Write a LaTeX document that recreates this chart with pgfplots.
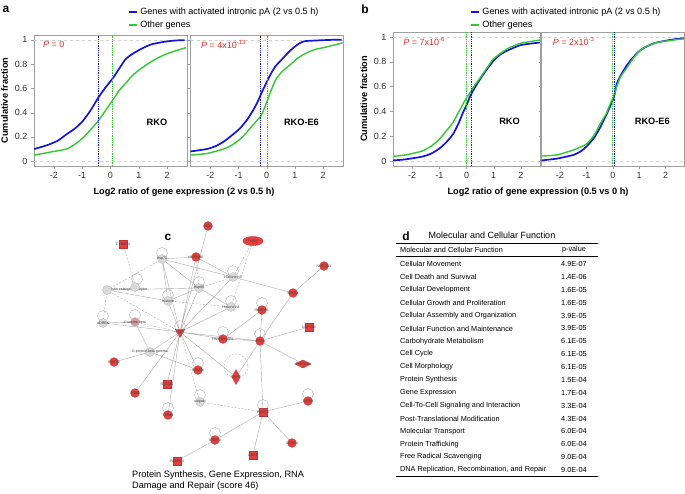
\documentclass[border=0pt]{standalone}
\usepackage{pgfplots}
\pgfplotsset{compat=1.18}
\usepackage{fontspec}
\setmainfont{Liberation Sans}
\definecolor{cblue}{RGB}{20,20,225}
\definecolor{cgreen}{RGB}{50,200,50}
\definecolor{cred}{RGB}{235,45,45}
\definecolor{nred}{RGB}{228,62,62}
\pgfplotsset{
  cdf/.style={scale only axis, xmin=-2.7, xmax=2.7, ymin=-0.04, ymax=1.04,
    xtick={-2,-1,0,1,2}, ytick={0,0.2,0.4,0.6,0.8,1},
    axis line style={gray!75}, tick style={gray!75}, tick align=outside, tick pos=left,
    major tick length=3pt,
    ticklabel style={font=\fontsize{9}{10}\selectfont, text=black!80},
    /pgf/number format/assume math mode=true,
    ylabel style={font=\bfseries\fontsize{9.2}{10}\selectfont},
    clip=false},
  bl/.style={cblue, line width=1.7pt, smooth, tension=0.4},
  gr/.style={cgreen, line width=1.4pt, smooth, tension=0.4},
  guide/.style={gray!35, dashed, line width=0.4pt, forget plot},
}
\newcommand{\lab}[1]{{\bfseries\fontsize{9.2}{10}\selectfont #1}}
\newcommand{\pv}[1]{{\color{cred}\fontsize{9}{10}\selectfont\textit{P} = #1}}
\newcommand{\netfont}{\fontsize{3.6}{4}\selectfont}
\begin{document}
\begin{tikzpicture}
\path[use as bounding box] (0pt,0pt) rectangle (685pt,493pt);

% ---------------- panel a left ----------------
\begin{axis}[cdf, at={(34pt,327pt)}, anchor=south west, width=153pt, height=131pt,
  ylabel={Cumulative fraction},
  legend style={at={(0.614,1.222)}, anchor=north west, draw=none, fill=none,
    font=\fontsize{9.1}{10}\selectfont, inner sep=0pt, row sep=0.5pt, cells={anchor=west}},
  legend image code/.code={\draw[#1, line width=2.2pt, smooth=false] (0pt,0pt) -- (8pt,0pt);}]
\addplot[guide] coordinates {(-2.7,0) (2.7,0)};
\addplot[guide] coordinates {(-2.7,1) (2.7,1)};
\addplot[bl] coordinates {(-2.69,0.10) (-2.4,0.12) (-2.14,0.14) (-1.85,0.17) (-1.56,0.22) (-1.25,0.27) (-0.98,0.33) (-0.7,0.42) (-0.44,0.52) (-0.2,0.60) (0.07,0.68) (0.3,0.76) (0.53,0.84) (0.75,0.88) (1.0,0.915) (1.25,0.945) (1.47,0.965) (1.93,0.985) (2.3,0.995) (2.62,0.997)};
\addlegendentry{Genes with activated intronic pA (2 vs 0.5 h)}
\addplot[gr] coordinates {(-2.69,0.05) (-2.14,0.074) (-1.56,0.10) (-1.25,0.14) (-0.98,0.19) (-0.7,0.26) (-0.44,0.33) (-0.2,0.41) (0.07,0.50) (0.3,0.58) (0.53,0.64) (0.75,0.70) (1.0,0.75) (1.47,0.825) (1.93,0.88) (2.3,0.91) (2.66,0.935)};
\addlegendentry{Other genes}
\addplot[cblue, densely dotted, line width=0.8pt, forget plot] coordinates {(-0.44,-0.04) (-0.44,1.04)};
\addplot[cgreen, densely dotted, line width=0.8pt, forget plot] coordinates {(0.07,-0.04) (0.07,1.04)};
\node[anchor=west] at (axis cs:-2.5,0.965) {\pv{0}};
\node at (axis cs:1.64,0.32) {\lab{RKO}};
\end{axis}

% ---------------- panel a right ----------------
\begin{axis}[cdf, at={(190.5pt,327pt)}, anchor=south west, width=152.5pt, height=131pt,
  yticklabels={}]
\addplot[guide] coordinates {(-2.7,0) (2.7,0)};
\addplot[guide] coordinates {(-2.7,1) (2.7,1)};
\addplot[bl] coordinates {(-2.7,0.08) (-2.12,0.10) (-1.8,0.125) (-1.53,0.16) (-1.25,0.21) (-0.95,0.27) (-0.7,0.34) (-0.48,0.42) (-0.3,0.50) (-0.19,0.56) (0.1,0.70) (0.3,0.78) (0.46,0.82) (0.7,0.88) (0.92,0.93) (1.15,0.97) (1.39,0.99) (2.3,1.0) (2.65,1.0)};
\addplot[gr] coordinates {(-2.7,0.05) (-2.12,0.063) (-1.53,0.10) (-1.25,0.13) (-0.95,0.18) (-0.7,0.24) (-0.48,0.30) (-0.19,0.38) (0.02,0.50) (0.2,0.61) (0.34,0.68) (0.55,0.74) (0.81,0.79) (1.1,0.85) (1.39,0.89) (1.7,0.92) (2.09,0.94) (2.68,0.975)};
\addplot[cblue, densely dotted, line width=0.8pt] coordinates {(-0.22,-0.04) (-0.22,1.04)};
\addplot[cgreen, densely dotted, line width=0.8pt] coordinates {(0.02,-0.04) (0.02,1.04)};
\node[anchor=west] at (axis cs:-2.45,0.965) {\pv{4x10\textsuperscript{-13}}};
\node at (axis cs:1.23,0.32) {\lab{RKO-E6}};
\end{axis}

% ---------------- panel b left ----------------
\begin{axis}[cdf, at={(393pt,327pt)}, anchor=south west, width=147pt, height=134pt,
  ylabel={Cumulative fraction},
  legend style={at={(0.524,1.195)}, anchor=north west, draw=none, fill=none,
    font=\fontsize{9.1}{10}\selectfont, inner sep=0pt, row sep=0.5pt, cells={anchor=west}},
  legend image code/.code={\draw[#1, line width=2.2pt, smooth=false] (0pt,0pt) -- (8pt,0pt);}]
\addplot[guide] coordinates {(-2.7,0) (2.7,0)};
\addplot[guide] coordinates {(-2.7,1) (2.7,1)};
\addplot[bl] coordinates {(-2.7,0.005) (-2.26,0.013) (-1.64,0.035) (-1.3,0.06) (-1.0,0.10) (-0.75,0.15) (-0.5,0.215) (-0.3,0.30) (-0.13,0.39) (0.0,0.45) (0.13,0.52) (0.3,0.59) (0.5,0.66) (0.75,0.74) (1.0,0.81) (1.25,0.86) (1.5,0.89) (2.0,0.935) (2.7,0.955)};
\addlegendentry{Genes with activated intronic pA (2 vs 0.5 h)}
\addplot[gr] coordinates {(-2.7,0.038) (-2.26,0.048) (-1.64,0.08) (-1.3,0.12) (-1.0,0.175) (-0.75,0.24) (-0.5,0.31) (-0.3,0.39) (-0.13,0.46) (0.0,0.51) (0.13,0.55) (0.3,0.61) (0.5,0.67) (0.75,0.75) (1.0,0.825) (1.5,0.905) (2.0,0.95) (2.7,0.975)};
\addlegendentry{Other genes}
\addplot[cblue, densely dotted, line width=0.8pt, forget plot] coordinates {(0.17,-0.04) (0.17,1.04)};
\addplot[cgreen, densely dotted, line width=0.8pt, forget plot] coordinates {(0.0,-0.04) (0.0,1.04)};
\node[anchor=west] at (axis cs:-2.45,0.965) {\pv{7x10\textsuperscript{-6}}};
\node at (axis cs:1.58,0.32) {\lab{RKO}};
\end{axis}

% ---------------- panel b right ----------------
\begin{axis}[cdf, at={(541.5pt,327pt)}, anchor=south west, width=142.5pt, height=134pt,
  yticklabels={}]
\addplot[guide] coordinates {(-2.7,0) (2.7,0)};
\addplot[guide] coordinates {(-2.7,1) (2.7,1)};
\addplot[bl] coordinates {(-2.7,0.005) (-2.1,0.02) (-1.48,0.05) (-1.2,0.08) (-0.98,0.12) (-0.7,0.19) (-0.48,0.27) (-0.25,0.37) (-0.1,0.44) (0.05,0.52) (0.15,0.62) (0.3,0.69) (0.53,0.77) (0.75,0.83) (1.03,0.89) (1.3,0.925) (1.66,0.955) (2.29,0.98) (2.7,0.99)};
\addplot[gr] coordinates {(-2.7,0.04) (-2.1,0.05) (-1.48,0.09) (-1.2,0.115) (-0.98,0.14) (-0.7,0.21) (-0.48,0.30) (-0.25,0.38) (-0.1,0.46) (0.05,0.53) (0.15,0.60) (0.3,0.68) (0.53,0.75) (0.75,0.82) (1.03,0.89) (1.3,0.925) (1.66,0.955) (2.29,0.975) (2.7,0.985)};
\addplot[cblue, densely dotted, line width=0.8pt] coordinates {(0.08,-0.04) (0.08,1.04)};
\addplot[cgreen, densely dotted, line width=0.8pt] coordinates {(0.0,-0.04) (0.0,1.04)};
\node[anchor=west] at (axis cs:-2.4,0.965) {\pv{2x10\textsuperscript{-3}}};
\node at (axis cs:1.5,0.32) {\lab{RKO-E6}};
\end{axis}

% x labels and panel letters
\node at (184pt,301pt) {\lab{Log2 ratio of gene expression (2 vs 0.5 h)}};
\node at (538pt,301pt) {\lab{Log2 ratio of gene expression (0.5 vs 0 h)}};
\node at (6pt,484pt) {\bfseries\fontsize{12}{12}\selectfont a};
\node at (365pt,484pt) {\bfseries\fontsize{12}{12}\selectfont b};
\node at (168pt,256pt) {\bfseries\fontsize{12}{12}\selectfont c};
\node at (406pt,257pt) {\bfseries\fontsize{12}{12}\selectfont d};

% ---------------- panel c: network ----------------
\begin{axis}[at={(80pt,25pt)}, anchor=south west, scale only axis, width=265pt, height=250pt,
  xmin=80, xmax=345, ymin=218, ymax=468, y dir=reverse, hide axis, clip=false]
% solid edges
\addplot[gray!65, line width=0.4pt, unbounded coords=jump] coordinates {
(180,332)(162,259) (nan,nan) (180,332)(196,257) (nan,nan) (180,332)(208,226) (nan,nan)
(180,332)(199,288) (nan,nan) (180,332)(233,277) (nan,nan) (180,332)(168,301) (nan,nan)
(180,332)(223,339) (nan,nan) (180,332)(260,341) (nan,nan) (180,332)(236,377) (nan,nan)
(180,332)(198,370) (nan,nan) (180,332)(167,384) (nan,nan) (180,332)(135,393) (nan,nan)
(180,332)(168,415) (nan,nan) (180,332)(103,323) (nan,nan) (180,332)(150,352) (nan,nan)
(180,332)(231,307) (nan,nan)
(162,259)(199,288) (nan,nan) (162,259)(196,257) (nan,nan) (162,259)(233,277) (nan,nan)
(162,259)(168,301) (nan,nan) (196,257)(233,277) (nan,nan) (199,288)(107,290) (nan,nan)
(199,288)(231,307) (nan,nan) (233,277)(293,293) (nan,nan) (324,266)(293,293) (nan,nan)
(293,293)(260,341) (nan,nan) (262,310)(260,341) (nan,nan) (262,310)(223,339) (nan,nan)
(223,339)(260,341) (nan,nan) (309,327)(260,341) (nan,nan) (260,341)(303,364) (nan,nan)
(260,341)(236,377) (nan,nan) (260,341)(263,412) (nan,nan) (150,352)(114,362) (nan,nan)
(150,352)(135,322) (nan,nan) (150,352)(198,370) (nan,nan) (103,323)(135,322) (nan,nan)
(263,412)(308,401) (nan,nan) (263,412)(215,440) (nan,nan) (263,412)(292,443) (nan,nan)
(263,412)(253,455) (nan,nan) (215,440)(177,461) (nan,nan) (168,301)(107,290) (nan,nan)
(199,288)(168,301)
};
% dashed edges
\addplot[gray!65, line width=0.4pt, dash pattern=on 2pt off 1.5pt, unbounded coords=jump] coordinates {
(123,244)(135,285) (nan,nan) (107,290)(162,259) (nan,nan) (103,323)(107,290) (nan,nan)
(180,332)(107,290) (nan,nan) (180,332)(135,322) (nan,nan) (180,332)(200,402) (nan,nan)
(200,402)(263,412) (nan,nan) (233,277)(253,241) (nan,nan) (231,307)(253,241) (nan,nan)
(168,301)(231,307) (nan,nan) (199,288)(196,257) (nan,nan) (199,288)(233,277)
};
% self loops
\addplot[only marks, mark=o, mark size=5.5pt, mark options={draw=gray!60, line width=0.4pt}] coordinates {
(162,253)(233,271)(199,282)(137,279)(231,301)(262,303)(223,332)(260,334)(180,326)
(103,316)(135,315)(198,363)(200,395)(263,405)(308,394)(168,408)(215,433)(168,295)};
\addplot[only marks, mark=o, mark size=12pt, mark options={draw=gray!60, line width=0.4pt, dash pattern=on 2pt off 1.5pt}] coordinates {(236,366)};
% gray nodes
\addplot[only marks, mark=*, mark size=4.5pt, mark options={fill=gray!30, draw=gray!55, line width=0.3pt}] coordinates {(107,290)(135,287)};
\addplot[only marks, mark=*, mark size=4.5pt, mark options={fill=gray!30, draw=gray!55, line width=0.3pt},
  point meta=explicit symbolic, nodes near coords={\pgfplotspointmeta},
  every node near coord/.append style={anchor=center, font=\netfont, text=black!75}] coordinates {
(162,259)[Hsp70] (233,277)[Histone h3] (199,288)[Hsp90] (168,301)[Histone]
(231,307)[Histone h4] (103,323)[ADRBK] (150,352)[G protein beta gamma] (200,402)[calpain]};
\addplot[only marks, mark=*, mark size=4.5pt, mark options={fill=nred!55!gray!60, draw=gray!55, line width=0.3pt},
  point meta=explicit symbolic, nodes near coords={\pgfplotspointmeta},
  every node near coord/.append style={anchor=center, font=\netfont, text=black!75}] coordinates {
(135,322)[Guanine beta]};
\node[font=\netfont, text=black!75] at (axis cs:125,290) {Progestin estrogen receptor};
% red circles
\addplot[only marks, mark=*, mark size=4.4pt, mark options={fill=nred, draw=nred!85!black, line width=0.3pt},
  point meta=explicit symbolic, nodes near coords={\pgfplotspointmeta},
  every node near coord/.append style={anchor=center, font=\netfont, text=black!75}] coordinates {
(208,226)[NCL] (196,257)[HNRNPK] (324,266)[NUDCD1] (293,293)[SEC62] (262,310)[HNRNPL]
(223,339)[HNRNPA2B1] (260,341)[PNN] (114,362)[PHF20] (198,370)[RBM26] (135,393)[TOM1]
(308,401)[EIF3G] (168,415)[TRIM9] (215,440)[SRSF3] (292,443)[CCNT1]};
% red squares / transporters
\addplot[only marks, mark=square*, mark size=4.2pt, mark options={fill=nred, draw=nred!85!black, line width=0.3pt},
  point meta=explicit symbolic, nodes near coords={\pgfplotspointmeta},
  every node near coord/.append style={anchor=center, font=\netfont, text=black!75}] coordinates {
(123,244)[CYB5R4] (263,412)[PRMT1] (253,455)[LSM1] (177,461)[PABPC4] (167,384)[SLC2A2] (309,327)[NUP210]};
% hub (inverted triangle)
\addplot[only marks, mark=triangle*, mark size=5.5pt, mark options={rotate=180, fill=nred, draw=nred!85!black, line width=0.3pt},
  point meta=explicit symbolic, nodes near coords={\pgfplotspointmeta},
  every node near coord/.append style={anchor=center, font=\netfont, text=black!75}] coordinates {(180,332)[HSP]};
% ellipse
\addplot[only marks, mark=*, mark size=4.6pt, mark options={xscale=2.2, fill=nred, draw=nred!85!black, line width=0.3pt},
  point meta=explicit symbolic, nodes near coords={\pgfplotspointmeta},
  every node near coord/.append style={anchor=center, font=\netfont, text=black!75}] coordinates {(253,241)[TNNI1]};
% diamonds
\addplot[only marks, mark=diamond*, mark size=7.5pt, mark options={xscale=0.75, fill=nred, draw=nred!85!black, line width=0.3pt},
  point meta=explicit symbolic, nodes near coords={\pgfplotspointmeta},
  every node near coord/.append style={anchor=center, font=\netfont, text=black!75}] coordinates {(236,377)[USP7]};
\addplot[only marks, mark=diamond*, mark size=5pt, mark options={xscale=2.2, yscale=0.8, fill=nred, draw=nred!85!black, line width=0.3pt},
  point meta=explicit symbolic, nodes near coords={\pgfplotspointmeta},
  every node near coord/.append style={anchor=center, font=\netfont, text=black!75}] coordinates {(303,364)[PPP1CB]};
\end{axis}

\node[anchor=north west, align=left, font=\fontsize{9.2}{11}\selectfont, inner sep=0pt] at (132pt,22pt)
  {Protein Synthesis, Gene Expression, RNA\\Damage and Repair (score 46)};

% ---------------- panel d: table ----------------
\node[font=\fontsize{9}{10}\selectfont] at (492pt,258pt) {Molecular and Cellular Function};
\draw[line width=0.9pt] (396pt,250pt) -- (598pt,250pt);
\begin{scope}[every node/.style={font=\fontsize{7.3}{8}\selectfont, inner sep=0pt}]
\node[anchor=west] at (400pt,243pt) {Molecular and Cellular Function};
\node at (574pt,243pt) {p-value};
\draw[line width=0.6pt] (396pt,237pt) -- (598pt,237pt);
\node[anchor=west] at (400pt,229pt) {Cellular Movement};            \node at (574pt,229pt) {4.9E-07};
\node[anchor=west] at (400pt,216.1pt) {Cell Death and Survival};    \node at (574pt,216.1pt) {1.4E-06};
\node[anchor=west] at (400pt,203.25pt) {Cellular Development};      \node at (574pt,203.25pt) {1.6E-05};
\node[anchor=west] at (400pt,190.4pt) {Cellular Growth and Proliferation}; \node at (574pt,190.4pt) {1.6E-05};
\node[anchor=west] at (400pt,177.5pt) {Cellular Assembly and Organization}; \node at (574pt,177.5pt) {3.9E-05};
\node[anchor=west] at (400pt,164.6pt) {Cellular Function and Maintenance}; \node at (574pt,164.6pt) {3.9E-05};
\node[anchor=west] at (400pt,151.75pt) {Carbohydrate Metabolism};   \node at (574pt,151.75pt) {6.1E-05};
\node[anchor=west] at (400pt,138.9pt) {Cell Cycle};                 \node at (574pt,138.9pt) {6.1E-05};
\node[anchor=west] at (400pt,126pt) {Cell Morphology};              \node at (574pt,126pt) {6.1E-05};
\node[anchor=west] at (400pt,113.1pt) {Protein Synthesis};          \node at (574pt,113.1pt) {1.5E-04};
\node[anchor=west] at (400pt,100.25pt) {Gene Expression};           \node at (574pt,100.25pt) {1.7E-04};
\node[anchor=west] at (400pt,87.4pt) {Cell-To-Cell Signaling and Interaction}; \node at (574pt,87.4pt) {3.3E-04};
\node[anchor=west] at (400pt,74.5pt) {Post-Translational Modification}; \node at (574pt,74.5pt) {4.3E-04};
\node[anchor=west] at (400pt,61.6pt) {Molecular Transport};         \node at (574pt,61.6pt) {6.0E-04};
\node[anchor=west] at (400pt,48.75pt) {Protein Trafficking};        \node at (574pt,48.75pt) {6.0E-04};
\node[anchor=west] at (400pt,35.9pt) {Free Radical Scavenging};     \node at (574pt,35.9pt) {9.0E-04};
\node[anchor=west] at (400pt,23pt) {DNA Replication, Recombination, and Repair}; \node at (574pt,23pt) {9.0E-04};
\end{scope}
\draw[line width=0.9pt] (396pt,17pt) -- (598pt,17pt);
\end{tikzpicture}
\end{document}
